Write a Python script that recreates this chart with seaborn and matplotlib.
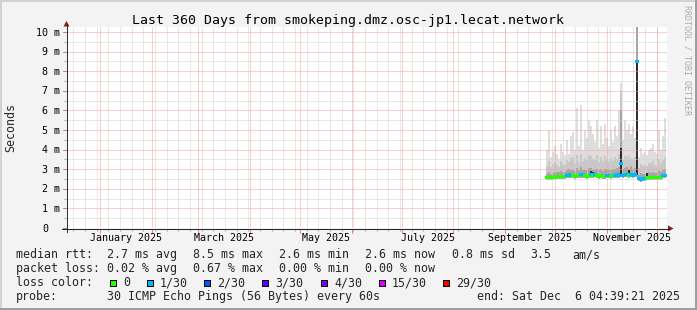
import numpy as np
import pandas as pd
import matplotlib
matplotlib.use("Agg")
import matplotlib.pyplot as plt
import matplotlib.dates as mdates
from matplotlib.patches import Rectangle, Polygon
from matplotlib.lines import Line2D
from matplotlib.transforms import blended_transform_factory, ScaledTranslation
import seaborn as sns

# ---------------- data ----------------
title = "Last 360 Days from smokeping.dmz.osc-jp1.lecat.network"
x_start = "2024-12-12 04:39:21"
x_end = "2025-12-07 04:39:21"
first_bin = "2025-09-25 14:00"
bin_minutes = 1728  # 1.2 days per bin

median_ms = [2.58, 2.58, 2.57, 2.58, 2.60, 2.62, 2.62, 2.61, 2.62, 2.63,
             2.70, 2.71, 2.70, 2.66, 2.65, 2.66, 2.67, 2.72, 2.71, 2.66,
             2.65, 2.67, 2.72, 2.68, 2.73, 2.66, 2.65, 2.66, 2.64, 2.65,
             2.70, 2.69, 2.65, 2.66, 2.70, 2.71, 2.70, 3.30, 2.70, 2.72,
             2.75, 2.68, 2.72, 2.70, 2.72, 8.50, 2.52, 2.50, 2.51, 2.52,
             2.58, 2.57, 2.58, 2.57, 2.58, 2.57, 2.58, 2.59, 2.67, 2.68]

loss_idx = [0, 0, 0, 0, 0, 0, 0, 0, 0, 0,
            1, 1, 1, 0, 0, 0, 0, 1, 1, 0,
            0, 0, 1, 0, 1, 0, 0, 0, 0, 0,
            1, 1, 0, 0, 1, 1, 1, 1, 1, 1,
            1, 0, 1, 1, 1, 1, 1, 1, 1, 1,
            0, 0, 0, 0, 0, 0, 0, 0, 1, 1]

ping_min_ms = [2.46, 2.47, 2.45, 2.46, 2.48, 2.50, 2.49, 2.48, 2.50, 2.50,
               2.55, 2.56, 2.55, 2.53, 2.52, 2.53, 2.54, 2.57, 2.56, 2.53,
               2.52, 2.54, 2.57, 2.55, 2.58, 2.53, 2.52, 2.53, 2.51, 2.52,
               2.56, 2.55, 2.52, 2.53, 2.56, 2.57, 2.56, 2.60, 2.56, 2.58,
               2.60, 2.55, 2.58, 2.56, 2.58, 2.62, 2.38, 2.37, 2.38, 2.39,
               2.45, 2.44, 2.45, 2.44, 2.45, 2.44, 2.45, 2.46, 2.54, 2.55]

ping_q40_ms = [2.55, 2.55, 2.54, 2.55, 2.57, 2.59, 2.59, 2.58, 2.59, 2.60,
               2.67, 2.68, 2.67, 2.63, 2.62, 2.63, 2.64, 2.69, 2.68, 2.63,
               2.62, 2.64, 2.68, 2.65, 2.70, 2.63, 2.62, 2.63, 2.61, 2.62,
               2.67, 2.66, 2.62, 2.63, 2.67, 2.68, 2.67, 2.75, 2.67, 2.69,
               2.72, 2.62, 2.69, 2.67, 2.69, 2.70, 2.49, 2.47, 2.48, 2.49,
               2.55, 2.54, 2.55, 2.54, 2.55, 2.54, 2.55, 2.56, 2.64, 2.65]

ping_q60_ms = [2.64, 2.65, 2.63, 2.64, 2.66, 2.68, 2.68, 2.67, 2.69, 2.69,
               2.77, 2.78, 2.76, 2.72, 2.71, 2.73, 2.73, 2.79, 2.77, 2.72,
               2.71, 2.74, 2.92, 2.86, 2.79, 2.72, 2.71, 2.73, 2.70, 2.71,
               2.77, 2.75, 2.71, 2.72, 2.77, 2.78, 2.77, 4.10, 2.76, 2.79,
               2.82, 2.95, 2.80, 2.76, 2.80, 8.55, 2.58, 2.56, 2.57, 2.58,
               2.80, 2.63, 2.64, 2.63, 2.64, 2.63, 2.64, 2.65, 2.74, 2.75]

ping_q75_ms = [2.78, 2.85, 2.75, 2.80, 2.85, 2.88, 2.84, 2.90, 2.86, 2.85,
               2.98, 3.00, 2.95, 2.95, 2.92, 3.05, 2.94, 3.10, 2.98, 2.96,
               2.97, 3.05, 3.05, 2.98, 3.02, 3.00, 2.95, 3.02, 2.93, 3.00,
               3.00, 2.96, 2.98, 2.94, 3.02, 3.05, 3.10, 6.00, 3.00, 3.06,
               3.10, 3.00, 3.15, 3.02, 3.05, 10.50, 2.72, 2.80, 2.76, 2.78,
               2.80, 2.85, 2.82, 2.86, 2.80, 2.82, 2.90, 2.84, 2.95, 3.00]

ping_q90_ms = [3.15, 3.40, 3.10, 3.25, 3.35, 3.20, 3.10, 3.40, 3.25, 3.20,
               3.45, 3.35, 3.55, 3.60, 3.30, 3.75, 3.35, 3.80, 3.40, 3.55,
               3.45, 3.70, 3.65, 3.50, 3.45, 3.70, 3.35, 3.60, 3.40, 3.65,
               3.50, 3.40, 3.55, 3.40, 3.60, 3.50, 3.80, 7.00, 3.45, 3.65,
               3.60, 3.70, 3.55, 3.50, 3.60, 10.50, 3.05, 3.25, 3.15, 3.20,
               3.15, 3.30, 3.30, 3.40, 3.20, 3.15, 3.50, 3.30, 3.45, 3.60]

ping_max_ms = [4.0, 5.0, 3.6, 3.9, 4.2, 3.8, 3.5, 4.3, 3.9, 3.7,
               4.5, 3.8, 4.7, 4.9, 4.0, 6.1, 4.2, 6.3, 4.0, 5.0,
               4.6, 5.5, 5.2, 4.8, 4.4, 5.5, 4.1, 5.2, 4.3, 5.3,
               4.6, 4.2, 5.0, 4.4, 5.2, 4.7, 6.0, 7.4, 4.5, 5.5,
               5.0, 5.3, 4.8, 5.2, 4.6, 10.5, 3.6, 4.1, 3.8, 3.9,
               3.7, 4.0, 4.1, 4.3, 3.9, 3.8, 5.0, 4.0, 4.7, 5.6]

loss_labels = ["0", "1/30", "2/30", "3/30", "4/30", "15/30", "29/30"]
loss_colors = ["#26ff00", "#00b8ff", "#0059ff", "#5e00ff", "#7e00ff", "#dd00ff", "#ff0000"]

y_ticks = [0, 1, 2, 3, 4, 5, 6, 7, 8, 9, 10]
y_tick_labels = ["0", "1 m", "2 m", "3 m", "4 m", "5 m", "6 m", "7 m", "8 m", "9 m", "10 m"]
month_labels = ["January 2025", "March 2025", "May 2025", "July 2025",
                "September 2025", "November 2025"]
month_label_starts = ["2025-01-01", "2025-03-01", "2025-05-01", "2025-07-01",
                      "2025-09-01", "2025-11-01"]

rtt_row = [(16, "median rtt:"), (107, "2.7 ms avg"), (193, "8.5 ms max"),
           (279, "2.6 ms min"), (365, "2.6 ms now"), (452, "0.8 ms sd"),
           (530, "3.5"), (572, "am/s")]
loss_row = [(16, "packet loss:"), (107, "0.02 % avg"), (193, "0.67 % max"),
            (279, "0.00 % min"), (365, "0.00 % now")]
color_box_x = [109, 146, 203, 261, 320, 378, 442]
probe_text = "30 ICMP Echo Pings (56 Bytes) every 60s"
end_text = "end: Sat Dec  6 04:39:21 2025"

# ---------------- figure ----------------
sns.set_style("white")
plt.rcParams["font.family"] = ["DejaVu Sans Mono", "DejaVu Sans"]

W, H = 697, 310
fig = plt.figure(figsize=(W / 100, H / 100), dpi=100)
fig.patch.set_facecolor("#F3F3F3")


def fx(x):
    return x / W


def fy(y):
    return 1 - y / H


PX_PER_MS = 19.6
ax = fig.add_axes([fx(67), fy(228), 600 / W, 201 / H])
ax.set_facecolor("white")

bins = pd.date_range(first_bin, periods=len(median_ms), freq=f"{bin_minutes}min")
xb = mdates.date2num(bins)
bw = bin_minutes / 1440.0
edges = np.append(xb, xb[-1] + bw)


def st(a):
    a = np.asarray(a, dtype=float)
    return np.append(a, a[-1])


# smoke
ax.fill_between(edges, st(ping_min_ms), st(ping_max_ms), step="post", color="#DEDEDE", lw=0, zorder=1)
ax.fill_between(edges, st(ping_min_ms), st(ping_q90_ms), step="post", color="#C8C8C8", lw=0, zorder=1.1)
ax.fill_between(edges, st(ping_min_ms), st(ping_q75_ms), step="post", color="#A6A6A6", lw=0, zorder=1.2)
ax.fill_between(edges, st(ping_q40_ms), st(ping_q60_ms), step="post", color="#2E2E2E", lw=0, zorder=1.3)

# median coloured by loss
df = pd.DataFrame({"t": xb + bw / 2, "rtt": median_ms,
                   "loss": [loss_labels[i] for i in loss_idx]})
pal = {l: c for l, c in zip(loss_labels, loss_colors) if l in set(df["loss"])}
sns.scatterplot(data=df, x="t", y="rtt", hue="loss", palette=pal, marker="s",
                s=5, linewidth=0, legend=False, ax=ax, zorder=6)

t0 = mdates.date2num(pd.Timestamp(x_start))
t1 = mdates.date2num(pd.Timestamp(x_end))
ax.set_xlim(t0, t1)
ax.set_ylim(0, 201 / PX_PER_MS)
ax.set_xlabel("")
ax.set_ylabel("")
ax.set_xticks([])
ax.set_yticks([])
for s in ax.spines.values():
    s.set_visible(False)

# grid (dotted)
dot = (0, (1, 1))
weeks = pd.date_range("2024-12-16", x_end, freq="W-MON")
months = pd.date_range("2025-01-01", x_end, freq="MS")
g_gray = dict(color="#D2D2D2", lw=0.72, ls=dot, zorder=4)
g_red = dict(color="#F5A0A0", lw=0.72, ls=dot, zorder=4.5)
for w in weeks:
    ax.axvline(mdates.date2num(w), **g_gray)
for v in np.arange(0.5, 10.0, 1.0):
    ax.axhline(v, **g_gray)
for m in months:
    ax.axvline(mdates.date2num(m), **g_red)
for v in range(1, 11):
    ax.axhline(v, **g_red)

# tick marks
ty = blended_transform_factory(fig.transFigure, ax.transData)
tx = blended_transform_factory(ax.transData, fig.transFigure)
for v in y_ticks:
    fig.add_artist(Line2D([fx(62.5), fx(66)], [v, v], transform=ty, color="#909090", lw=0.72))
for v in np.arange(0.5, 10.0, 1.0):
    fig.add_artist(Line2D([fx(64), fx(66)], [v, v], transform=ty, color="#B8B8B8", lw=0.72))
for w in weeks:
    x = mdates.date2num(w)
    fig.add_artist(Line2D([x, x], [fy(229), fy(231)], transform=tx, color="#B8B8B8", lw=0.72))
for m in months:
    x = mdates.date2num(m)
    fig.add_artist(Line2D([x, x], [fy(229), fy(233)], transform=tx, color="#F08080", lw=0.72))

# axes lines and arrows
fig.add_artist(Line2D([fx(66.5), fx(66.5)], [fy(232), fy(24)], color="#303030", lw=0.72,
                      antialiased=False))
fig.add_artist(Line2D([fx(62), fx(669)], [fy(228.5), fy(228.5)], color="#202020", lw=0.72,
                      antialiased=False))
fig.add_artist(Polygon([(fx(63.5), fy(26.5)), (fx(69.5), fy(26.5)), (fx(66.5), fy(21))],
                       closed=True, color="#8B1A1A", lw=0))
fig.add_artist(Polygon([(fx(668), fy(225.5)), (fx(668), fy(231.5)), (fx(673.5), fy(228.5))],
                       closed=True, color="#8B1A1A", lw=0))

# y tick labels
off = ScaledTranslation(0, -3.6 / 100, fig.dpi_scale_trans)
for v, lab in zip(y_ticks, y_tick_labels):
    xr = 60 if lab.endswith("m") else 48
    fig.text(fx(xr), v, lab, transform=ty + off, ha="right", va="baseline",
             fontsize=7.2, color="black")

# x tick labels (centred on the month)
for lab, start in zip(month_labels, month_label_starts):
    s = pd.Timestamp(start)
    e = s + pd.offsets.MonthBegin(1)
    mid = (mdates.date2num(s) + mdates.date2num(e)) / 2
    fig.text(mid, fy(241), lab, transform=tx, ha="center", va="baseline",
             fontsize=7.2, color="black")

# titles
fig.text(fx(348.5), fy(24), title, ha="center", va="baseline", fontsize=9.5, color="black")
fig.text(fx(11), fy(128), "Seconds", rotation=90, ha="center", va="center", fontsize=8.4)
fig.text(fx(687.5), fy(5), "RRDTOOL / TOBI OETIKER", rotation=270, ha="center", va="top",
         fontsize=6, color="#ABABAB")

# legend rows
LF = 8.4
for x, s in rtt_row:
    fig.text(fx(x), fy(258), s, ha="left", va="baseline", fontsize=LF)
for x, s in loss_row:
    fig.text(fx(x), fy(272), s, ha="left", va="baseline", fontsize=LF)
fig.text(fx(16), fy(286), "loss color:", ha="left", va="baseline", fontsize=LF)
for bx, lab, col in zip(color_box_x, loss_labels, loss_colors):
    fig.add_artist(Rectangle((fx(bx + 0.5), fy(285.5)), 6 / W, 6 / H,
                             facecolor=col, edgecolor="black", lw=0.72))
    fig.text(fx(bx + 14), fy(286), lab, ha="left", va="baseline", fontsize=LF)
fig.text(fx(16), fy(300), "probe:", ha="left", va="baseline", fontsize=LF)
fig.text(fx(107), fy(300), probe_text, ha="left", va="baseline", fontsize=LF)
fig.text(fx(680), fy(300), end_text, ha="right", va="baseline", fontsize=LF)

# 3-D style border
fig.add_artist(Rectangle((0, fy(2)), 1, 2 / H, transform=fig.transFigure, color="#D2D2D2", lw=0))
fig.add_artist(Rectangle((0, 0), 2 / W, 1, transform=fig.transFigure, color="#D2D2D2", lw=0))
fig.add_artist(Rectangle((0, 0), 1, 2 / H, transform=fig.transFigure, color="#9E9E9E", lw=0))
fig.add_artist(Rectangle((fx(W - 2), 0), 2 / W, 1, transform=fig.transFigure, color="#9E9E9E", lw=0))

fig.savefig("out.png", dpi=100, facecolor=fig.get_facecolor())
